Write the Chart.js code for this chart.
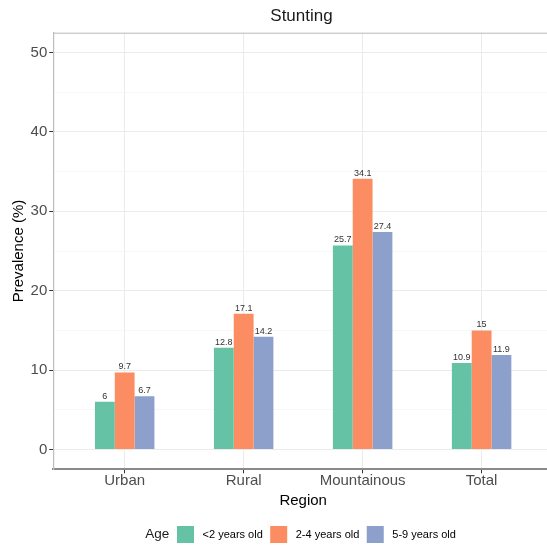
<!DOCTYPE html>
<html>
<head>
<meta charset="utf-8">
<script src="https://cdn.jsdelivr.net/npm/chart.js@4/dist/chart.umd.min.js"></script>
<style>
  html, body { margin: 0; padding: 0; background: #fff; overflow: hidden; }
  #wrap { width: 547px; height: 550px; overflow: hidden; }
</style>
</head>
<body>
<div id="wrap">
  <canvas id="stunting-chart" width="603" height="553"></canvas>
</div>
<script>
// data
var regions = ["Urban", "Rural", "Mountainous", "Total"];
var ageGroups = ["<2 years old", "2-4 years old", "5-9 years old"];
var under2 = [6, 12.8, 25.7, 10.9];
var age2to4 = [9.7, 17.1, 34.1, 15];
var age5to9 = [6.7, 14.2, 27.4, 11.9];
var yMajorTicks = [0, 10, 20, 30, 40, 50];
var yMinorTicks = [5, 15, 25, 35, 45];

var ageColors = ["#66C2A5", "#FC8D62", "#8DA0CB"];
var fontFamily = "'Liberation Sans', Arial, Helvetica, sans-serif";

Chart.defaults.font.family = fontFamily;

function toPoints(values) {
    var points = [];
    for (var i = 0; i < values.length; i++) {
        points.push({ x: i + 1, y: values[i] });
    }
    return points;
}

function isMajor(value) {
    return yMajorTicks.indexOf(value) !== -1;
}

// numbers on top of each bar
var barLabels = {
    id: "barLabels",
    afterDatasetsDraw: function (chart) {
        var ctx = chart.ctx;
        ctx.save();
        ctx.font = "9px " + fontFamily;
        ctx.fillStyle = "#333333";
        ctx.textAlign = "center";
        ctx.textBaseline = "alphabetic";
        chart.data.datasets.forEach(function (ds, i) {
            chart.getDatasetMeta(i).data.forEach(function (bar, j) {
                ctx.fillText(String(ds.data[j].y), bar.x, bar.y - 3);
            });
        });
        ctx.restore();
    }
};

// top edge of the panel + the "Age" legend title
var panelExtras = {
    id: "panelExtras",
    afterDraw: function (chart) {
        var ctx = chart.ctx;
        var area = chart.chartArea;
        ctx.save();
        ctx.strokeStyle = "#b8b8b8";
        ctx.lineWidth = 1;
        ctx.beginPath();
        ctx.moveTo(area.left, area.top + 0.5);
        ctx.lineTo(area.right, area.top + 0.5);
        ctx.stroke();

        var boxes = chart.legend.legendHitBoxes;
        if (boxes && boxes.length > 1) {
            ctx.font = "13.5px " + fontFamily;
            ctx.fillStyle = "#1a1a1a";
            ctx.textAlign = "right";
            ctx.textBaseline = "middle";
            ctx.fillText("Age", boxes[1].left - 7.7, boxes[1].top + boxes[1].height / 2);
        }
        ctx.restore();
    }
};

var datasets = [under2, age2to4, age5to9].map(function (values, i) {
    return {
        label: ageGroups[i],
        data: toPoints(values),
        backgroundColor: ageColors[i],
        borderWidth: 0,
        categoryPercentage: 0.5,
        barPercentage: 1
    };
});

var stuntingChart = new Chart(document.getElementById("stunting-chart"), {
    type: "bar",
    data: { datasets: datasets },
    plugins: [barLabels, panelExtras],
    options: {
        responsive: false,
        animation: false,
        devicePixelRatio: 1,
        layout: { padding: 0 },
        plugins: {
            title: {
                display: true,
                text: "Stunting",
                color: "#1a1a1a",
                font: { size: 17, weight: "normal" },
                padding: { top: 5.7, bottom: 6.6 }
            },
            legend: {
                position: "bottom",
                onClick: function () {},
                labels: {
                    boxWidth: 17,
                    boxHeight: 17,
                    padding: 7.4,
                    color: "#1a1a1a",
                    font: { size: 11 },
                    generateLabels: function (chart) {
                        // first item is an empty slot that leaves room for "Age"
                        var items = [{
                            text: "",
                            fillStyle: "rgba(0,0,0,0)",
                            strokeStyle: "rgba(0,0,0,0)",
                            lineWidth: 0
                        }];
                        chart.data.datasets.forEach(function (ds, i) {
                            items.push({
                                text: " " + ds.label,
                                fillStyle: ds.backgroundColor,
                                strokeStyle: ds.backgroundColor,
                                lineWidth: 0,
                                datasetIndex: i
                            });
                        });
                        return items;
                    }
                }
            },
            tooltip: { enabled: false }
        },
        scales: {
            x: {
                type: "linear",
                min: 0.4,
                max: 4.6,
                offset: false,
                afterBuildTicks: function (axis) {
                    axis.ticks = regions.map(function (r, i) { return { value: i + 1 }; });
                },
                afterFit: function (axis) { axis.height = 49.3; },
                ticks: {
                    autoSkip: false,
                    maxRotation: 0,
                    padding: 0,
                    color: "#4d4d4d",
                    font: { size: 15, lineHeight: 1 },
                    callback: function (value) { return regions[value - 1]; }
                },
                grid: {
                    offset: false,
                    color: "#ebebeb",
                    lineWidth: 1,
                    tickColor: "#333333",
                    tickLength: 4
                },
                border: { color: "#8a8a8a", width: 2 },
                title: {
                    display: true,
                    text: "Region",
                    color: "#000000",
                    font: { size: 15 },
                    padding: { top: 0, bottom: 8.6 }
                }
            },
            y: {
                min: -2.5,
                max: 52.5,
                beginAtZero: false,
                afterBuildTicks: function (axis) {
                    axis.ticks = yMajorTicks.concat(yMinorTicks)
                        .sort(function (a, b) { return a - b; })
                        .map(function (v) { return { value: v }; });
                },
                afterFit: function (axis) { axis.width = 53.3; },
                ticks: {
                    padding: 2,
                    color: "#4d4d4d",
                    font: { size: 15 },
                    callback: function (value) { return isMajor(value) ? String(value) : ""; }
                },
                grid: {
                    color: function (ctx) { return isMajor(ctx.tick.value) ? "#ebebeb" : "#f4f4f4"; },
                    lineWidth: function (ctx) { return isMajor(ctx.tick.value) ? 1 : 0.7; },
                    tickColor: function (ctx) { return isMajor(ctx.tick.value) ? "#333333" : "rgba(0,0,0,0)"; },
                    tickLength: 4
                },
                border: { color: "#bdbdbd", width: 1.2 },
                title: {
                    display: true,
                    text: "Prevalence (%)",
                    color: "#000000",
                    font: { size: 15 },
                    padding: { top: 9.7, bottom: 0 }
                }
            },
            // empty axis on the right: the panel runs past the picture's edge
            yRight: {
                position: "right",
                display: true,
                afterFit: function (axis) { axis.width = 50; },
                ticks: { display: false },
                grid: { display: false },
                border: { display: false }
            }
        }
    }
});
</script>
</body>
</html>
